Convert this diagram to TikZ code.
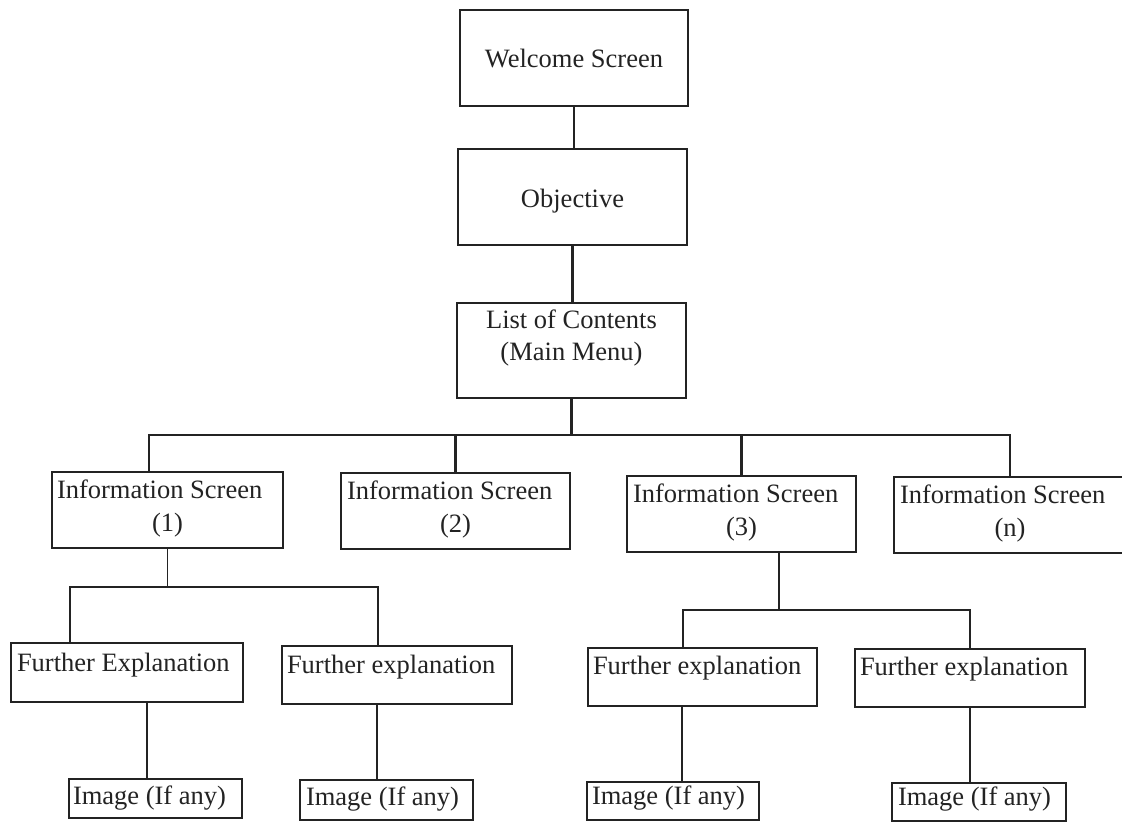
\documentclass[tikz,border=0pt]{standalone}
\usepackage{fontspec}
\setmainfont{Liberation Serif}
\definecolor{ink}{RGB}{35,35,35}
\newcommand{\mkbox}[5]{\node[box, minimum width={(#4-#2)*1bp}, minimum height={(#5-#3)*1bp}] (#1) at ({(#2+#4)/2},{(#3+#5)/2}) {};}
\tikzset{
  box/.style={draw=ink, line width=1.5bp, inner sep=0pt, outer sep=0pt, rectangle},
  txt/.style={inner sep=0pt, outer sep=0pt, text=ink, font=\fontsize{26.5bp}{32bp}\selectfont},
  mainconn/.style={draw=ink, line width=2.2bp},
  subconn/.style={draw=ink, line width=1.5bp}
}
\begin{document}
\begin{tikzpicture}[x=1bp,y=-1bp]
\useasboundingbox[fill=white] (0,0) rectangle (1122,822);
% boxes: name, left, top, right, bottom
\mkbox{wel}{460}{10}{688}{106}
\mkbox{obj}{458}{149}{687}{245}
\mkbox{lst}{457}{303}{686}{398}
\mkbox{iA}{52}{472}{283}{548}
\mkbox{iB}{341}{473}{570}{549}
\mkbox{iC}{627}{476}{856}{552}
\mkbox{iN}{894}{477}{1126}{553}
\mkbox{feA}{11}{643}{243}{702}
\mkbox{feB}{282}{646}{512}{704}
\mkbox{feC}{588}{648}{817}{706}
\mkbox{feD}{855}{649}{1085}{707}
\mkbox{imA}{69}{779}{242}{818}
\mkbox{imB}{300}{780}{473}{820}
\mkbox{imC}{587}{782}{759}{820}
\mkbox{imD}{892}{783}{1066}{821}
% texts
\node[txt, anchor=base] (welT) at (574,68) {Welcome Screen};
\node[txt, anchor=base] (objT) at (572.5,207) {Objective};
\node[txt, anchor=base] (lstT1) at (571.5,328) {List of Contents};
\node[txt, anchor=base] (lstT2) at (571.5,360) {(Main Menu)};
\node[txt, anchor=base west] (iAT1) at (57,498) {Information Screen};
\node[txt, anchor=base] (iAT2) at (167.5,531) {(1)};
\node[txt, anchor=base west] (iBT1) at (347,499) {Information Screen};
\node[txt, anchor=base] (iBT2) at (455.5,532) {(2)};
\node[txt, anchor=base west] (iCT1) at (633,502) {Information Screen};
\node[txt, anchor=base] (iCT2) at (741.5,535) {(3)};
\node[txt, anchor=base west] (iNT1) at (900,503) {Information Screen};
\node[txt, anchor=base] (iNT2) at (1010,536) {(n)};
\node[txt, anchor=base west] (feAT) at (17,671) {Further Explanation};
\node[txt, anchor=base west] (feBT) at (287,673) {Further explanation};
\node[txt, anchor=base west] (feCT) at (593,674) {Further explanation};
\node[txt, anchor=base west] (feDT) at (860,675) {Further explanation};
\node[txt, anchor=base west] (imAT) at (73,804) {Image (If any)};
\node[txt, anchor=base west] (imBT) at (306,805) {Image (If any)};
\node[txt, anchor=base west] (imCT) at (592,804) {Image (If any)};
\node[txt, anchor=base west] (imDT) at (898,805) {Image (If any)};
% coordinates for connector routing
\coordinate (busL) at (149,435);
\coordinate (busR) at (1010,435);
\coordinate (sAL) at (70,587);
\coordinate (sAR) at (378,587);
\coordinate (sCL) at (683,610);
\coordinate (sCR) at (970,610);
\coordinate (sCM) at (779,610);
\coordinate (vA) at (147,740);
\coordinate (vB) at (377,740);
\coordinate (vC) at (682,740);
\coordinate (vD) at (970,740);
% main connectors
\draw[mainconn] (wel.south) -- (wel.south |- obj.north);
\draw[mainconn] (obj.south) -- (obj.south |- lst.north);
\draw[mainconn] (lst.south) -- (lst.south |- busL);
\draw[mainconn, line cap=rect] (busL) -- (busR);
\draw[mainconn] (busL) -- (busL |- iA.north);
\draw[mainconn] (iB.north |- busL) -- (iB.north);
\draw[mainconn] (iC.north |- busL) -- (iC.north);
\draw[mainconn] (busR) -- (busR |- iN.north);
% sub connectors
\draw[subconn] (iA.south) -- (iA.south |- sAL);
\draw[subconn, line cap=rect] (sAL) -- (sAR);
\draw[subconn] (sAL) -- (sAL |- feA.north);
\draw[subconn] (sAR) -- (sAR |- feB.north);
\draw[subconn] (sCM |- iC.south) -- (sCM);
\draw[subconn, line cap=rect] (sCL) -- (sCR);
\draw[subconn] (sCL) -- (sCL |- feC.north);
\draw[subconn] (sCR) -- (sCR |- feD.north);
\draw[subconn] (vA |- feA.south) -- (vA |- imA.north);
\draw[subconn] (vB |- feB.south) -- (vB |- imB.north);
\draw[subconn] (vC |- feC.south) -- (vC |- imC.north);
\draw[subconn] (vD |- feD.south) -- (vD |- imD.north);
\end{tikzpicture}
\end{document}
